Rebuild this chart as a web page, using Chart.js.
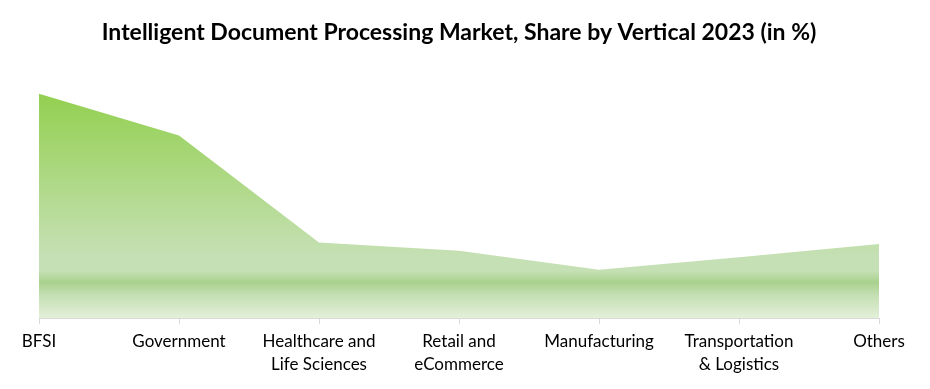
<!DOCTYPE html>
<html>
<head>
<meta charset="utf-8">
<script src="https://cdn.jsdelivr.net/npm/chart.js@4/dist/chart.umd.min.js"></script>
<style>
  html, body { margin: 0; padding: 0; background: #fff; }
  #wrap { width: 930px; height: 389px; position: relative; }
</style>
</head>
<body>
<div id="wrap"><canvas id="chart"></canvas></div>
<script>
const categories = [
  'BFSI',
  'Government',
  ['Healthcare and', 'Life Sciences'],
  ['Retail and', 'eCommerce'],
  'Manufacturing',
  ['Transportation', '& Logistics'],
  'Others'
];
const shareValues = [30.6, 24.9, 10.3, 9.2, 6.6, 8.3, 10.1];

// Excel-like vertical gradient with a darker band near the bottom
function areaFill(context) {
  const chart = context.chart;
  const area = chart.chartArea;
  if (!area) return '#b5d99a';
  const yScale = chart.scales.y;
  const top = yScale.getPixelForValue(Math.max(...shareValues));
  const bottom = area.bottom;
  const g = chart.ctx.createLinearGradient(0, top, 0, bottom);
  g.addColorStop(0, '#93d050');
  g.addColorStop(0.72, '#c5e0b4');
  g.addColorStop(0.79, '#c5e0b4');
  g.addColorStop(0.84, '#a9d18e');
  g.addColorStop(0.9, '#c5e0b4');
  g.addColorStop(1, '#e3f0d9');
  return g;
}

new Chart(document.getElementById('chart'), {
  type: 'line',
  data: {
    labels: categories,
    datasets: [{
      label: 'Share',
      data: shareValues,
      fill: 'origin',
      backgroundColor: areaFill,
      borderWidth: 0,
      pointRadius: 0,
      tension: 0
    }]
  },
  options: {
    responsive: true,
    maintainAspectRatio: false,
    animation: false,
    layout: { padding: { left: 39, right: 51, top: 0, bottom: 7 } },
    plugins: {
      legend: { display: false },
      tooltip: { enabled: false },
      title: {
        display: true,
        text: 'Intelligent Document Processing Market, Share by Vertical 2023 (in %)',
        color: '#000',
        font: { family: 'Lato', size: 23, weight: 'bold' },
        padding: { top: 19, bottom: 15 }
      }
    },
    scales: {
      x: {
        offset: false,
        grid: {
          display: true,
          drawOnChartArea: false,
          drawTicks: true,
          tickLength: 6,
          color: '#d9d9d9'
        },
        border: { display: true, color: '#d9d9d9', width: 1 },
        ticks: {
          color: '#000',
          font: { family: 'Lato', size: 17, lineHeight: 1.35 },
          maxRotation: 0,
          autoSkip: false,
          padding: 6
        }
      },
      y: {
        display: false,
        min: 0,
        max: 35
      }
    }
  }
});
</script>
</body>
</html>
